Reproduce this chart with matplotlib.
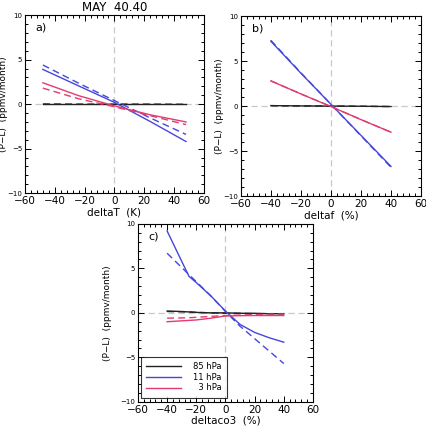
import matplotlib
matplotlib.use("Agg")
import matplotlib.pyplot as plt
from matplotlib.ticker import MultipleLocator
from matplotlib.lines import Line2D

# ---- data ----
# panel a: deltaT (K)
xa = [-48, -24, 0, 24, 48]
a_black_solid = [0.0, 0.0, 0.0, 0.0, 0.0]
a_black_dash = [0.02, 0.0, 0.0, 0.0, -0.02]
a_blue_solid = [3.9, 2.05, 0.2, -1.95, -4.2]
a_blue_dash = [4.4, 2.35, 0.4, -1.55, -3.4]
a_red_solid = [2.4, 0.95, -0.2, -1.2, -2.0]
a_red_dash = [1.8, 0.6, -0.3, -1.3, -2.3]

# panel b: deltaf (%)
xb = [-40, -20, 0, 20, 40]
b_black_solid = [0.05, 0.02, 0.0, -0.02, -0.05]
b_black_dash = [0.05, 0.02, 0.0, -0.02, -0.05]
b_blue_solid = [7.2, 3.65, 0.2, -3.25, -6.7]
b_blue_dash = [7.3, 3.7, 0.2, -3.3, -6.8]
b_red_solid = [2.8, 1.35, -0.05, -1.5, -2.9]
b_red_dash = [2.8, 1.35, -0.05, -1.5, -2.9]

# panel c: deltaco3 (%)
xc = [-40, -30, -25, -20, -10, 0, 10, 20, 30, 40]
c_black_solid = [0.2, 0.15, 0.1, 0.05, 0.0, 0.0, -0.05, -0.05, -0.1, -0.1]
c_black_dash = [0.15, 0.12, 0.1, 0.05, 0.0, -0.05, -0.05, -0.1, -0.1, -0.1]
c_blue_solid = [9.2, 5.8, 4.1, 3.4, 1.9, 0.2, -1.3, -2.2, -2.8, -3.3]
c_blue_dash = [6.7, 5.1, 4.3, 3.5, 1.9, 0.15, -1.5, -2.9, -4.3, -5.7]
c_red_solid = [-1.0, -0.9, -0.85, -0.8, -0.6, -0.35, -0.32, -0.3, -0.3, -0.3]
c_red_dash = [-0.6, -0.57, -0.55, -0.5, -0.4, -0.3, -0.25, -0.2, -0.15, -0.12]

legend_labels = ["85 hPa", "11 hPa", "\u20073 hPa"]
x_labels = ["deltaT  (K)", "deltaf  (%)", "deltaco3  (%)"]
panel_tags = ["a)", "b)", "c)"]
ylabel = "(P\u2212L)  (ppmv/month)"
title = "MAY  40.40"

BLACK = "#222222"
BLUE = "#4646dc"
RED = "#e03c6e"
GRAY = "#c8c8c8"
DASH = (0, (5, 3))

fig = plt.figure(figsize=(4.27, 4.33), dpi=100)
axa = fig.add_axes([0.0585, 0.554, 0.419, 0.411])
axb = fig.add_axes([0.564, 0.547, 0.422, 0.416])
axc = fig.add_axes([0.323, 0.072, 0.410, 0.411])

def style(ax, xlabel, tag, ylab_x):
    ax.set_xlim(-60, 60)
    ax.set_ylim(-10, 10)
    ax.axhline(0, color=GRAY, lw=0.9, ls=DASH, zorder=0)
    ax.axvline(0, color=GRAY, lw=0.9, ls=DASH, zorder=0)
    ax.xaxis.set_major_locator(MultipleLocator(20))
    ax.xaxis.set_minor_locator(MultipleLocator(4))
    ax.yaxis.set_major_locator(MultipleLocator(5))
    ax.yaxis.set_minor_locator(MultipleLocator(1))
    ax.tick_params(which="both", direction="in", top=True, right=True, width=0.7)
    ax.tick_params(which="major", length=4)
    ax.tick_params(which="minor", length=2)
    ax.tick_params(axis="x", labelsize=7.5, pad=2)
    ax.tick_params(axis="y", labelsize=5, pad=2)
    ax.set_xlabel(xlabel, fontsize=7.5, labelpad=1)
    ax.set_ylabel(ylabel, fontsize=6.5)
    ax.yaxis.set_label_coords(ylab_x, 0.5)
    ax.text(0.06, 0.93, tag, transform=ax.transAxes, fontsize=8, va="center")
    for s in ax.spines.values():
        s.set_linewidth(0.8)

def draw(ax, x, bs, bd, us, ud, rs, rd):
    ax.plot(x, bs, color=BLACK, lw=1.0)
    ax.plot(x, bd, color=BLACK, lw=1.0, ls=DASH)
    ax.plot(x, us, color=BLUE, lw=1.0)
    ax.plot(x, ud, color=BLUE, lw=1.0, ls=DASH)
    ax.plot(x, rs, color=RED, lw=1.0)
    ax.plot(x, rd, color=RED, lw=1.0, ls=DASH)

draw(axa, xa, a_black_solid, a_black_dash, a_blue_solid, a_blue_dash, a_red_solid, a_red_dash)
draw(axb, xb, b_black_solid, b_black_dash, b_blue_solid, b_blue_dash, b_red_solid, b_red_dash)
draw(axc, xc, c_black_solid, c_black_dash, c_blue_solid, c_blue_dash, c_red_solid, c_red_dash)

for ax, xl, tag, lx in zip([axa, axb, axc], x_labels, panel_tags, [-0.095, -0.095, -0.15]):
    style(ax, xl, tag, lx)

axa.set_title(title, fontsize=8.5, pad=3)

handles = [Line2D([], [], color=c, lw=1.0) for c in (BLACK, BLUE, RED)]
leg = axc.legend(handles, legend_labels, loc="lower left", bbox_to_anchor=(0.017, 0.022),
                 borderaxespad=0, fontsize=6, frameon=True, fancybox=False,
                 edgecolor="black", handlelength=4.2, handletextpad=1.4,
                 labelspacing=0.2, borderpad=0.65)
leg.get_frame().set_linewidth(0.8)

fig.savefig("out.png", dpi=100)
